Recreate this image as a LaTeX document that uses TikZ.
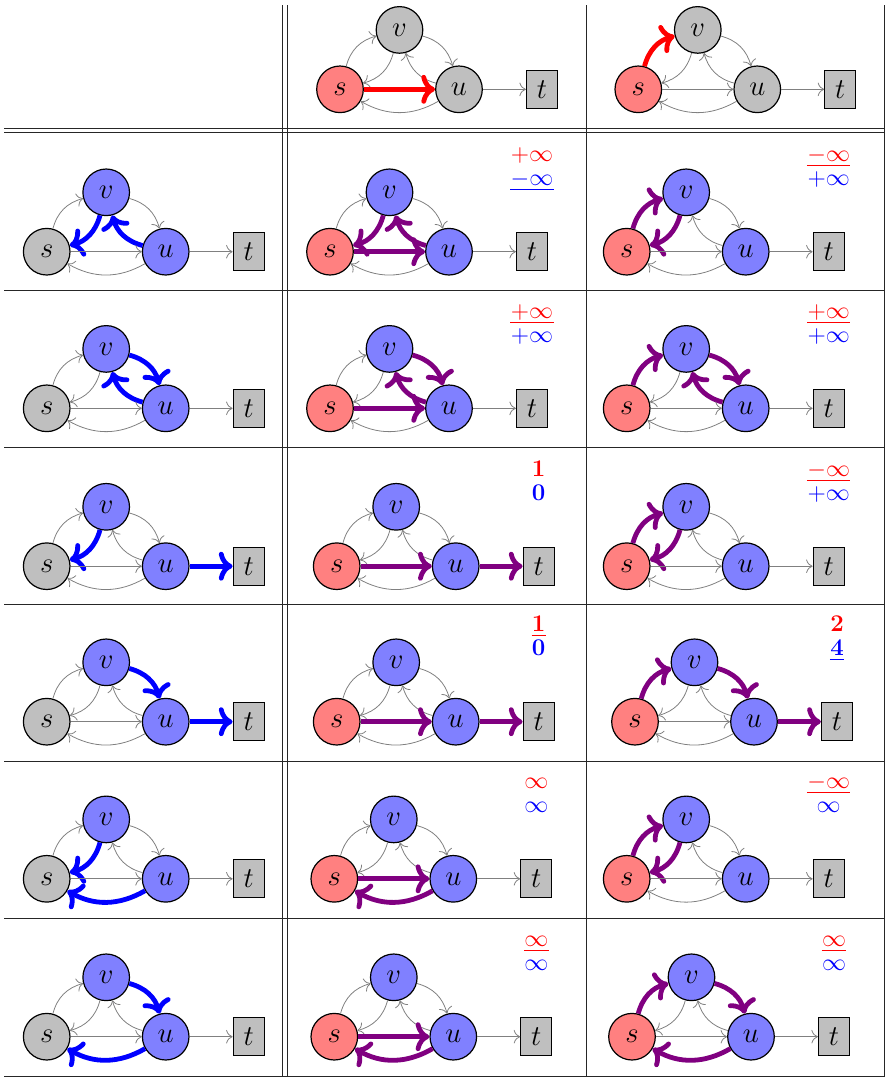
\documentclass[tikz,border=0pt]{standalone}
\usetikzlibrary{arrows.meta}
\newcommand\graphcell[6]{%
  \begin{scope}[shift={(#2,#3)},#6]
    \node[#4] (#1s) at (0,0) {$s$};
    \node[#5] (#1v) at (59.5,-59.4) {$v$};
    \node[#5] (#1u) at (119,0) {$u$};
    \node[tbox] (#1t) at (202,0) {$t$};
    \draw[e-sv] (#1s) to[bend left=30] (#1v);
    \draw[e-vs] (#1v) to[bend left=30] (#1s);
    \draw[e-vu] (#1v) to[bend left=30] (#1u);
    \draw[e-uv] (#1u) to[bend left=30] (#1v);
    \draw[e-su] (#1s) -- (#1u);
    \draw[e-us] (#1u) to[bend left=30] (#1s);
    \draw[e-ut] (#1u) -- (#1t);
  \end{scope}}
\newcommand\labs[5]{%
  \node[lab,text=red] (#1r) at (#2,#3-90) {#4};
  \node[lab,text=blue] (#1b) at (#2,#3-66) {#5};}
\newcommand\ulr[1]{\draw[red,line width=0.5pt] ([yshift=-2pt]#1r.base west) -- ([yshift=-2pt]#1r.base east);}
\newcommand\ulb[1]{\draw[blue,line width=0.5pt] ([yshift=-2pt]#1b.base west) -- ([yshift=-2pt]#1b.base east);}
\begin{document}
\begin{tikzpicture}[x=0.5pt,y=-0.5pt,
  gnode/.style={circle,draw,line width=0.6pt,minimum size=23.3pt,inner sep=0pt,font=\Large},
  nR/.style={gnode,fill=red!50},
  nB/.style={gnode,fill=blue!50},
  nG/.style={gnode,fill=gray!50},
  tbox/.style={rectangle,draw,line width=0.6pt,fill=gray!50,minimum width=15.5pt,minimum height=19pt,inner sep=0pt,font=\Large},
  gedge/.style={-{Computer Modern Rightarrow[scale=1.3]},draw=gray,line width=0.4pt},
  hl/.style={-{Computer Modern Rightarrow[scale=1.0]},draw=#1,line width=2.4pt},
  e-sv/.style={gedge}, e-vs/.style={gedge}, e-vu/.style={gedge}, e-uv/.style={gedge},
  e-su/.style={gedge}, e-us/.style={gedge}, e-ut/.style={gedge},
  hiV/.style={e-#1/.style={hl=violet}},
  hiB/.style={e-#1/.style={hl=blue}},
  hiR/.style={e-#1/.style={hl=red}},
  lab/.style={anchor=base,inner sep=0pt,font=\large},
  tabrule/.style={line width=0.5pt,black!85}]
\useasboundingbox (0,0) rectangle (888,1078);
% table rules
\foreach \yy in {128,132.8,290.5,447.5,604,761.5,918.5,1076.5}
  \draw[tabrule] (4,\yy) -- (884.5,\yy);
\foreach \xx in {282.7,287.2,586,884}
  \draw[tabrule] (\xx,5) -- (\xx,1076.5);
% row 1
\graphcell{aB}{340}{89.3}{nR}{nG}{hiR=su}
\graphcell{aC}{638.3}{89.3}{nR}{nG}{hiR=sv}
% row 2
\graphcell{bA}{46.7}{251.7}{nG}{nB}{hiB=vs,hiB=uv}
\graphcell{bB}{330}{251.7}{nR}{nB}{hiV=vs,hiV=uv,hiV=su}
\labs{bB}{532}{251.7}{$+\infty$}{$-\infty$}\ulb{bB}
\graphcell{bC}{626.7}{251.7}{nR}{nB}{hiV=sv,hiV=vs}
\labs{bC}{828.7}{251.7}{$-\infty$}{$+\infty$}\ulr{bC}
% row 3
\graphcell{cA}{46.7}{408.3}{nG}{nB}{hiB=vu,hiB=uv}
\graphcell{cB}{330}{408.3}{nR}{nB}{hiV=vu,hiV=uv,hiV=su}
\labs{cB}{532}{408.3}{$+\infty$}{$+\infty$}\ulr{cB}
\graphcell{cC}{626.7}{408.3}{nR}{nB}{hiV=sv,hiV=vu,hiV=uv}
\labs{cC}{828.7}{408.3}{$+\infty$}{$+\infty$}\ulr{cC}
% row 4
\graphcell{dA}{46.7}{566.2}{nG}{nB}{hiB=vs,hiB=ut}
\graphcell{dB}{336.7}{566.2}{nR}{nB}{hiV=su,hiV=ut}
\labs{dB}{538.7}{566.2}{$\mathbf{1}$}{$\mathbf{0}$}
\graphcell{dC}{626.7}{566.2}{nR}{nB}{hiV=sv,hiV=vs}
\labs{dC}{828.7}{566.2}{$-\infty$}{$+\infty$}\ulr{dC}
% row 5
\graphcell{eA}{46.7}{721.7}{nG}{nB}{hiB=vu,hiB=ut}
\graphcell{eB}{336.7}{721.7}{nR}{nB}{hiV=su,hiV=ut}
\labs{eB}{538.7}{721.7}{$\mathbf{1}$}{$\mathbf{0}$}\ulr{eB}
\graphcell{eC}{635}{721.7}{nR}{nB}{hiV=sv,hiV=vu,hiV=ut}
\labs{eC}{837}{721.7}{$\mathbf{2}$}{$\mathbf{4}$}\ulb{eC}
% row 6
\graphcell{fA}{46.7}{878.8}{nG}{nB}{hiB=vs,hiB=us}
\graphcell{fB}{334.3}{878.8}{nR}{nB}{hiV=su,hiV=us}
\labs{fB}{536.3}{878.8}{$\infty$}{$\infty$}
\graphcell{fC}{626.7}{878.8}{nR}{nB}{hiV=sv,hiV=vs}
\labs{fC}{828.7}{878.8}{$-\infty$}{$\infty$}\ulr{fC}
% row 7
\graphcell{gA}{46.7}{1036.7}{nG}{nB}{hiB=vu,hiB=us}
\graphcell{gB}{334.3}{1036.7}{nR}{nB}{hiV=su,hiV=us}
\labs{gB}{536.3}{1036.7}{$\infty$}{$\infty$}\ulr{gB}
\graphcell{gC}{632}{1036.7}{nR}{nB}{hiV=sv,hiV=vu,hiV=us}
\labs{gC}{834}{1036.7}{$\infty$}{$\infty$}\ulr{gC}
\end{tikzpicture}
\end{document}
